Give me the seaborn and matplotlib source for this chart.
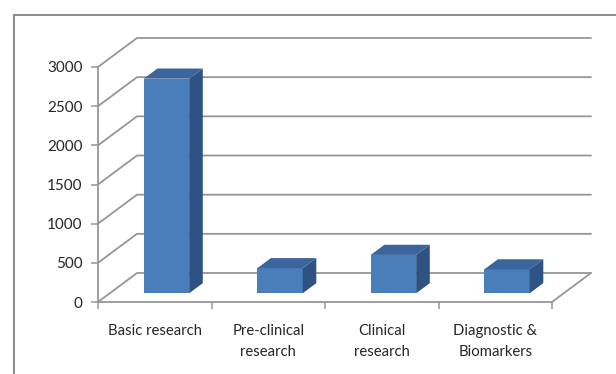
import matplotlib
matplotlib.use("Agg")
import matplotlib.pyplot as plt
from matplotlib.lines import Line2D
from matplotlib.patches import Polygon
import seaborn as sns
import pandas as pd

# Data
categories = ["Basic research", "Pre-clinical\nresearch", "Clinical\nresearch", "Diagnostic &\nBiomarkers"]
values = [2740, 320, 490, 305]
y_ticks = [0, 500, 1000, 1500, 2000, 2500, 3000]

# Colours
FRONT = "#4a7ebb"
TOP = "#3b659c"
SIDE = "#2e5283"
GRID = "#969696"
TEXT = "#262626"

sns.set_theme(style="white")
plt.rcParams["font.family"] = ["Lato", "DejaVu Sans"]

W, H, DPI = 616, 374, 100
fig = plt.figure(figsize=(W / DPI, H / DPI), dpi=DPI)
fig.patch.set_facecolor("white")

# Front plane of the pseudo-3D plot (pixel layout)
left_px, right_px, bottom_px, top_px = 98, 552, 302, 67
ax = fig.add_axes([left_px / W, 1 - bottom_px / H,
                   (right_px - left_px) / W, (bottom_px - top_px) / H])

df = pd.DataFrame({"category": categories, "value": values})
sns.barplot(data=df, x="category", y="value", color=FRONT, saturation=1,
            width=0.4, linewidth=0, ax=ax, zorder=3)

ax.set_xlim(-0.5, len(categories) - 0.5)
ax.set_ylim(0, 3000)
ax.set_xlabel("")
ax.set_ylabel("")
ax.set_facecolor("none")

# pixel -> data unit conversion
x_per_px = (len(categories)) / (right_px - left_px)
y_per_px = 3000 / (bottom_px - top_px)

# depth of the floor / back wall, in pixels
DEPTH = (39, 29)
bar_front, bar_back = 0.30, 0.65


def off(frac):
    return DEPTH[0] * frac * x_per_px, DEPTH[1] * frac * y_per_px


# back wall gridlines with their diagonals
wx, wy = off(1.0)
x_lo, x_hi = -0.5, len(categories) - 0.5
for lv in y_ticks:
    ax.add_line(Line2D([x_lo, x_lo + wx, x_hi + wx], [lv, lv + wy, lv + wy],
                       color=GRID, lw=1.3, zorder=1, clip_on=False))
# right edge of the floor
ax.add_line(Line2D([x_hi, x_hi + wx], [0, wy], color=GRID, lw=1.3,
                   zorder=1, clip_on=False))

# move bar front faces into the depth and add top and side faces
fx, fy = off(bar_front)
bx, by = off(bar_back)
for p in list(ax.patches):
    x0 = p.get_x()
    x1 = x0 + p.get_width()
    v = p.get_height()
    p.set_x(x0 + fx)
    p.set_y(fy)
    p.set_clip_on(False)
    a0, a1 = x0 + fx, x1 + fx
    side = Polygon([(a1, fy), (a1, v + fy), (x1 + bx, v + by), (x1 + bx, by)],
                   closed=True, facecolor=SIDE, edgecolor="none", zorder=3,
                   clip_on=False)
    top = Polygon([(a0, v + fy), (a1, v + fy), (x1 + bx, v + by), (x0 + bx, v + by)],
                  closed=True, facecolor=TOP, edgecolor="none", zorder=3,
                  clip_on=False)
    ax.add_patch(side)
    ax.add_patch(top)

# axes: front vertical axis and floor edge
for s in ["top", "right"]:
    ax.spines[s].set_visible(False)
for s in ["left", "bottom"]:
    ax.spines[s].set_color(GRID)
    ax.spines[s].set_linewidth(1.3)

ax.set_yticks(y_ticks)
ax.set_yticklabels([str(t) for t in y_ticks])
ax.tick_params(axis="y", length=5, width=1.1, color=GRID, pad=6,
               labelsize=11, labelcolor=TEXT, left=True)

# category boundaries get tick marks, names sit at category centres
ax.set_xticks([i - 0.5 for i in range(len(categories) + 1)])
ax.set_xticklabels([])
ax.tick_params(axis="x", which="major", length=5, width=1.1, color=GRID,
               bottom=True, direction="out")
ax.set_xticks(range(len(categories)), minor=True)
ax.set_xticklabels(categories, minor=True)
ax.tick_params(axis="x", which="minor", length=0, pad=16, labelsize=10.7,
               labelcolor=TEXT)
for t in ax.get_xticklabels(minor=True):
    t.set_linespacing(1.65)
    t.set_verticalalignment("top")

# chart frame
fig.add_artist(Line2D([14 / W, 1], [1 - 15 / H, 1 - 15 / H],
                      transform=fig.transFigure, color="#8a8a8a", lw=1.4))
fig.add_artist(Line2D([14 / W, 14 / W], [1 - 15 / H, 0],
                      transform=fig.transFigure, color="#8a8a8a", lw=1.4))

fig.savefig("out.png", dpi=DPI)
